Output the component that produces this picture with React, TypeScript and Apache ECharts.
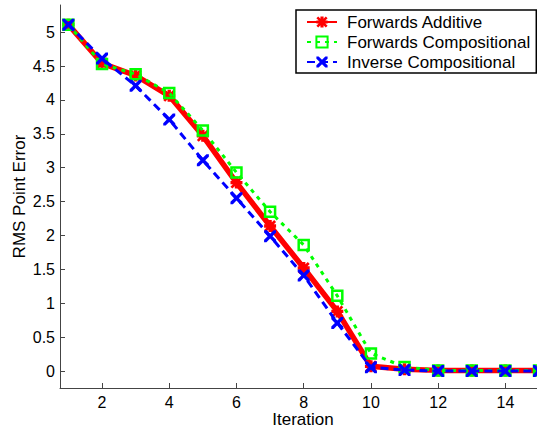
import React, { useEffect, useRef } from "react";
import * as echarts from "echarts";

const iterations = [1, 2, 3, 4, 5, 6, 7, 8, 9, 10, 11, 12, 13, 14, 15];
const forwardsAdditive = [5.11, 4.54, 4.36, 4.06, 3.47, 2.78, 2.14, 1.52, 0.88, 0.07, 0.025, 0.01, 0.01, 0.01, 0.01];
const forwardsCompositional = [5.11, 4.53, 4.38, 4.1, 3.55, 2.93, 2.35, 1.86, 1.11, 0.26, 0.06, 0.01, 0.01, 0.01, 0.01];
const inverseCompositional = [5.11, 4.61, 4.21, 3.71, 3.11, 2.55, 1.99, 1.41, 0.71, 0.055, 0.015, 0.0, 0.0, 0.0, 0.0];
const xTicks = [2, 4, 6, 8, 10, 12, 14];
const yTicks = [0, 0.5, 1, 1.5, 2, 2.5, 3, 3.5, 4, 4.5, 5];
const seriesNames = ["Forwards Additive", "Forwards Compositional", "Inverse Compositional"];

const FONT = "'Liberation Sans', Arial, Helvetica, sans-serif";

const starPath =
  "path://M3.6,0H6.4V10H3.6Z M0,3.6H10V6.4H0Z M1.6,0L5,3.4L8.4,0L10,1.6L6.6,5L10,8.4L8.4,10L5,6.6L1.6,10L0,8.4L3.4,5L0,1.6Z";
const xPath =
  "path://M0,0L2,0L5,3L8,0L10,0L10,2L7,5L10,8L10,10L8,10L5,7L2,10L0,10L0,8L3,5L0,2Z";

function pairs(vals: number[]) {
  return iterations.map((x, i) => [x, vals[i]]);
}

export default function App() {
  const ref = useRef<HTMLDivElement>(null);
  useEffect(() => {
    if (!ref.current) return;
    const chart = echarts.init(ref.current, undefined, { renderer: "svg" });
    chart.setOption({
      animation: false,
      backgroundColor: "#fff",
      textStyle: { fontFamily: FONT },
      grid: { left: 60, top: 5, bottom: 42, right: -2, containLabel: false, outerBoundsMode: "none" },
      legend: {
        orient: "vertical",
        left: 296,
        top: 10,
        padding: [3, 6, 2, 10],
        itemGap: 2,
        itemWidth: 30,
        itemHeight: 14,
        borderColor: "#000",
        borderWidth: 1.5,
        backgroundColor: "#fff",
        textStyle: { fontFamily: FONT, fontSize: 17, color: "#000", lineHeight: 18, padding: [0, 0, 0, 5] },
        data: seriesNames,
      },
      xAxis: {
        type: "value",
        min: 0.75,
        max: 15,
        name: "Iteration",
        nameLocation: "middle",
        nameGap: 23,
        nameMoveOverlap: false,
        nameTextStyle: { fontFamily: FONT, fontSize: 17, lineHeight: 17, color: "#000", padding: [0, 0, 0, 7] },
        axisLine: { show: true, onZero: false, lineStyle: { color: "#444", width: 1 } },
        axisTick: { show: true, inside: true, length: 5, customValues: xTicks, lineStyle: { color: "#444" } },
        axisLabel: { customValues: xTicks, fontFamily: FONT, fontSize: 16, color: "#000", margin: 6 },
        splitLine: { show: false },
      },
      yAxis: {
        type: "value",
        min: -0.25,
        max: 5.4,
        name: "RMS Point Error",
        nameLocation: "middle",
        nameRotate: 90,
        nameGap: 32,
        nameMoveOverlap: false,
        nameTextStyle: { fontFamily: FONT, fontSize: 17, lineHeight: 17, color: "#000" },
        axisLine: { show: true, onZero: false, lineStyle: { color: "#444", width: 1 } },
        axisTick: { show: true, inside: true, length: 5, customValues: yTicks, lineStyle: { color: "#444" } },
        axisLabel: { customValues: yTicks, fontFamily: FONT, fontSize: 16, color: "#000", margin: 5 },
        splitLine: { show: false },
      },
      series: [
        {
          name: seriesNames[0],
          type: "line",
          data: pairs(forwardsAdditive),
          symbol: starPath,
          symbolSize: 12,
          lineStyle: { color: "#ff0000", width: 5.5, type: "solid" },
          itemStyle: { color: "#ff0000" },
          z: 2,
        },
        {
          name: seriesNames[1],
          type: "line",
          data: pairs(forwardsCompositional),
          symbol: "rect",
          symbolSize: 10,
          lineStyle: { color: "#00ff00", width: 3, type: [4, 5] },
          itemStyle: { color: "rgba(0,0,0,0)", borderColor: "#00ff00", borderWidth: 2.5 },
          z: 3,
        },
        {
          name: seriesNames[2],
          type: "line",
          data: pairs(inverseCompositional),
          symbol: xPath,
          symbolSize: 12,
          lineStyle: { color: "#0000ff", width: 3, type: [8, 5] },
          itemStyle: { color: "#0000ff" },
          z: 4,
        },
      ],
    });
    return () => chart.dispose();
  }, []);
  return (
    <div
      ref={ref}
      style={{ position: "fixed", left: 0, top: 0, width: 537, height: 430 }}
    />
  );
}
